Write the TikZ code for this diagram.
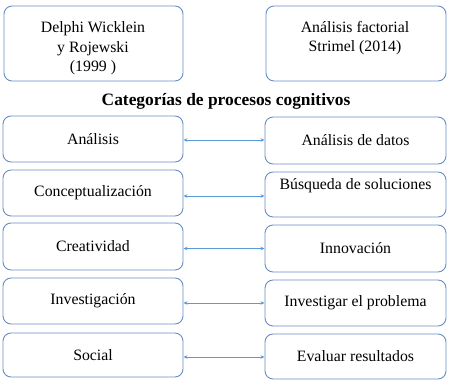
\documentclass[tikz,border=0pt]{standalone}
\usepackage{fontspec}
\setmainfont{Liberation Serif}
\usetikzlibrary{arrows.meta}
\definecolor{boxblue}{RGB}{104,140,196}
\definecolor{arrblue}{RGB}{91,155,213}
\tikzset{
  cbox/.style={draw=boxblue, line width=0.9pt, rounded corners=8pt, inner sep=0pt,
    minimum width=180pt, font=\fontsize{15.8}{19.5}\selectfont, align=center},
  txt/.style={inner sep=0pt, font=\fontsize{15.8}{19.5}\selectfont, align=center},
  link/.style={draw=arrblue, line width=0.7pt, {Stealth[length=4pt,width=3.5pt]}-{Stealth[length=4pt,width=3.5pt]}}
}
\begin{document}
\begin{tikzpicture}[x=1pt,y=-1pt]
\useasboundingbox (0,0) rectangle (452,386);
% header boxes
\node[cbox, minimum width=179pt, minimum height=75pt] (TL) at (93.5,43.5) {};
\node[txt] (TLt) at (93,48.5) {Delphi Wicklein\\y Rojewski\\(1999 )};
\node[cbox, minimum height=75pt] (TR) at (356,43.5) {};
\node[txt] (TRt) at (355,38) {Análisis factorial\\Strimel (2014)};
\node[inner sep=0pt, font=\fontsize{17.4}{20}\selectfont\bfseries] (title) at (226,101) {Categorías de procesos cognitivos};
% rows
\node[cbox, minimum height=46pt] (L1) at (93,139) {Análisis};
\node[cbox, minimum width=181pt, minimum height=47pt] (R1) at (355.5,140.5) {Análisis de datos};
\node[cbox, minimum height=46pt] (L2) at (93,193) {Conceptualización};
\node[cbox, minimum width=181pt, minimum height=45pt] (R2) at (355.5,194.5) {};
\node[txt] (R2t) at (355.5,186) {Búsqueda de soluciones};
\node[cbox, minimum height=47pt] (L3) at (93,246.5) {Creatividad};
\node[cbox, minimum width=181pt, minimum height=47pt] (R3) at (355.5,248.5) {Innovación};
\node[cbox, minimum height=46pt] (L4) at (93,301) {Investigación};
\node[cbox, minimum width=181pt, minimum height=46pt] (R4) at (355.5,303) {Investigar el problema};
\node[cbox, minimum height=44pt] (L5) at (93,355) {Social};
\node[cbox, minimum width=181pt, minimum height=45pt] (R5) at (355.5,356.5) {Evaluar resultados};
% connectors
\draw[link] ([yshift=-1pt]L1.east) -- ([yshift=-1pt]L1.east -| R1.west);
\draw[link] ([yshift=-3pt]L2.east) -- ([yshift=-3pt]L2.east -| R2.west);
\draw[link] ([yshift=-2pt]L3.east) -- ([yshift=-2pt]L3.east -| R3.west);
\draw[link] ([yshift=-2pt]L4.east) -- ([yshift=-2pt]L4.east -| R4.west);
\draw[link] ([yshift=-2pt]L5.east) -- ([yshift=-2pt]L5.east -| R5.west);
\end{tikzpicture}
\end{document}
